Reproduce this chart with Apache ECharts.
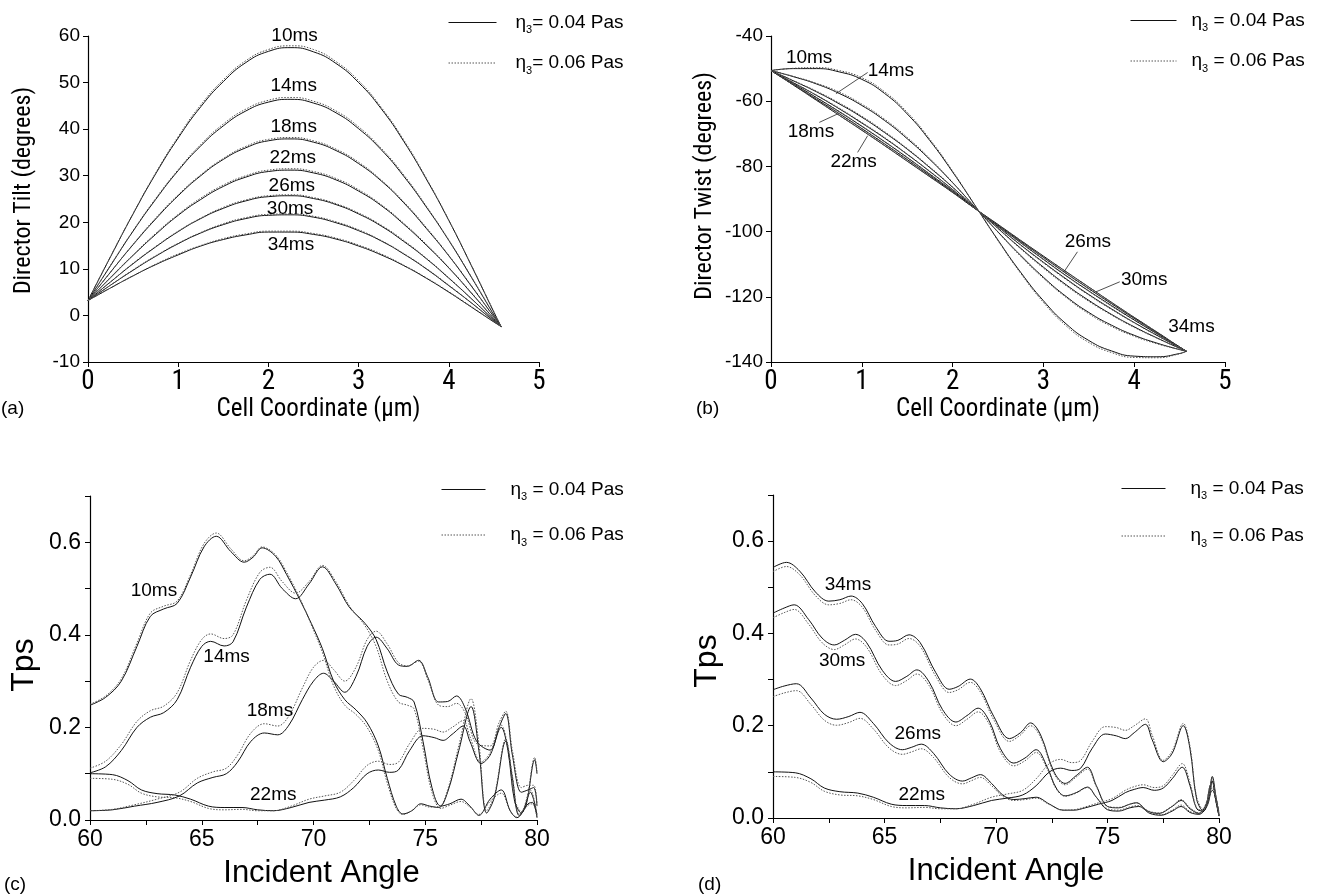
<!DOCTYPE html>
<html><head><meta charset="utf-8">
<script src="https://cdn.jsdelivr.net/npm/echarts@6/dist/echarts.min.js"></script>
<style>html,body{margin:0;padding:0;background:#fff}#c{width:1317px;height:896px}</style>
</head><body><div id="c"></div>
<script>
// ---------- Panel (a): director tilt vs cell coordinate ----------
const xA = [0,0.25,0.5,0.75,1,1.25,1.5,1.75,2,2.25,2.5,2.75,3,3.25,3.5,3.75,4,4.25,4.5,4.58];
const tilt10  = [3.2,12.6,21.8,30.4,38.1,44.8,50.2,54.3,56.7,57.5,56.6,54.1,50.0,44.4,37.4,29.3,20.4,10.7,0.7,-2.4];
const tilt10d = [3.2,12.7,21.9,30.6,38.4,45.2,50.6,54.7,57.1,57.9,57.1,54.5,50.4,44.7,37.7,29.5,20.5,10.8,0.8,-2.4];
const tilt14  = [3.2,10.7,18.1,24.9,31.1,36.4,40.7,43.9,45.8,46.4,45.6,43.5,40.1,35.6,29.9,23.3,16.1,8.2,0.1,-2.4];
const tilt14d = [3.2,10.8,18.2,25.1,31.3,36.7,41.1,44.3,46.2,46.8,46.0,43.9,40.5,35.9,30.2,23.5,16.2,8.3,0.2,-2.4];
const tilt18  = [3.2,9.3,15.2,20.7,25.7,30.0,33.5,36.0,37.5,37.9,37.2,35.4,32.6,28.9,24.2,18.7,12.8,6.3,-0.3,-2.4];
const tilt18d = [3.2,9.3,15.3,20.9,25.9,30.2,33.7,36.3,37.8,38.2,37.5,35.7,32.9,29.1,24.4,18.9,12.9,6.4,-0.3,-2.4];
const tilt22  = [3.2,8.1,12.9,17.4,21.5,24.9,27.7,29.7,30.9,31.2,30.6,29.1,26.7,23.6,19.6,15.1,10.2,4.8,-0.7,-2.4];
const tilt22d = [3.2,8.2,13.0,17.6,21.7,25.2,28.0,30.0,31.2,31.5,30.9,29.4,27.0,23.8,19.8,15.3,10.3,4.9,-0.7,-2.4];
const tilt26  = [3.2,7.2,11.1,14.7,18.0,20.8,23.0,24.6,25.5,25.7,25.1,23.8,21.8,19.2,15.9,12.2,8.0,3.6,-1.0,-2.4];
const tilt26d = [3.2,7.2,11.2,14.8,18.1,20.9,23.2,24.8,25.7,25.9,25.3,24.0,22.0,19.4,16.1,12.3,8.1,3.6,-1.0,-2.4];
const tilt30  = [3.2,6.5,9.7,12.7,15.4,17.7,19.5,20.8,21.5,21.6,21.1,19.9,18.2,16.0,13.2,10.0,6.4,2.7,-1.2,-2.4];
const tilt30d = [3.2,6.5,9.8,12.8,15.5,17.8,19.7,21.0,21.7,21.8,21.3,20.1,18.4,16.1,13.3,10.1,6.5,2.7,-1.2,-2.4];
const tilt34  = [3.2,5.9,8.5,10.9,13.0,14.9,16.3,17.3,17.9,17.9,17.4,16.4,14.9,13.0,10.7,8.0,5.0,1.8,-1.4,-2.4];
const tilt34d = [3.2,5.9,8.5,11.0,13.2,15.0,16.5,17.5,18.1,18.1,17.6,16.6,15.1,13.2,10.8,8.1,5.1,1.9,-1.4,-2.4];
const labelsA = [['10ms',2.29,60.0],['14ms',2.28,49.4],['18ms',2.28,40.5],['22ms',2.27,33.9],['26ms',2.26,27.9],['30ms',2.24,22.9],['34ms',2.25,15.1]];

// ---------- Panel (b): director twist vs cell coordinate ----------
const xB = [0,0.25,0.5,0.75,1,1.25,1.5,1.75,2,2.25,2.5,2.75,3,3.25,3.5,3.75,4,4.25,4.5,4.575];
const twist10  = [-50.6,-50.0,-50.0,-51.0,-53.3,-57.6,-63.9,-72.1,-81.7,-92.1,-102.6,-112.5,-121.2,-128.3,-133.4,-136.6,-138.2,-138.4,-137.4,-136.7];
const twist10d = [-50.6,-49.9,-49.7,-50.6,-52.8,-57.1,-63.4,-71.7,-81.4,-92.1,-102.8,-112.8,-121.7,-128.9,-134.0,-137.1,-138.6,-138.7,-137.5,-136.7];
const twist14  = [-50.6,-52.5,-54.7,-57.6,-61.3,-65.9,-71.5,-77.9,-85.0,-92.6,-100.1,-107.3,-114.0,-119.9,-124.8,-128.7,-131.8,-134.2,-136.2,-136.7];
const twist14d = [-50.6,-52.4,-54.5,-57.2,-60.9,-65.5,-71.1,-77.6,-84.9,-92.6,-100.2,-107.6,-114.3,-120.2,-125.2,-129.1,-132.1,-134.4,-136.2,-136.7];
const twist18  = [-50.6,-53.8,-57.1,-60.8,-64.9,-69.6,-74.7,-80.4,-86.4,-92.8,-99.0,-105.1,-110.9,-116.3,-121.1,-125.4,-129.2,-132.6,-135.8,-136.7];
const twist18d = [-50.6,-53.7,-56.9,-60.5,-64.6,-69.3,-74.5,-80.2,-86.3,-92.8,-99.1,-105.3,-111.2,-116.6,-121.4,-125.6,-129.4,-132.7,-135.8,-136.7];
const twist22  = [-50.6,-54.4,-58.2,-62.3,-66.7,-71.3,-76.3,-81.6,-87.1,-92.9,-98.5,-104.1,-109.4,-114.5,-119.3,-123.7,-127.9,-131.8,-135.6,-136.7];
const twist22d = [-50.6,-54.3,-58.1,-62.1,-66.5,-71.1,-76.2,-81.5,-87.1,-92.9,-98.6,-104.2,-109.6,-114.7,-119.5,-123.9,-128.0,-131.9,-135.6,-136.7];
const twist26  = [-50.6,-54.7,-58.9,-63.2,-67.7,-72.4,-77.3,-82.4,-87.5,-92.9,-98.2,-103.4,-108.5,-113.5,-118.2,-122.7,-127.1,-131.3,-135.5,-136.7];
const twist26d = [-50.6,-54.7,-58.8,-63.1,-67.6,-72.3,-77.2,-82.3,-87.5,-92.9,-98.2,-103.5,-108.6,-113.6,-118.3,-122.9,-127.2,-131.4,-135.5,-136.7];
const twist30  = [-50.6,-55.0,-59.4,-63.8,-68.4,-73.1,-77.9,-82.8,-87.8,-93.0,-98.0,-103.0,-107.9,-112.8,-117.5,-122.1,-126.6,-131.0,-135.4,-136.7];
const twist30d = [-50.6,-54.9,-59.3,-63.7,-68.3,-73.0,-77.8,-82.8,-87.8,-93.0,-98.0,-103.1,-108.0,-112.9,-117.6,-122.2,-126.7,-131.1,-135.4,-136.7];
const twist34  = [-50.6,-55.1,-59.7,-64.3,-68.9,-73.6,-78.4,-83.2,-88.0,-93.0,-97.8,-102.7,-107.5,-112.3,-117.0,-121.7,-126.3,-130.8,-135.4,-136.7];
const twist34d = [-50.6,-55.1,-59.7,-64.3,-68.9,-73.6,-78.3,-83.1,-88.0,-93.0,-97.9,-102.7,-107.6,-112.3,-117.0,-121.7,-126.3,-130.8,-135.4,-136.7];
const labelsB = [['10ms',0.42,-46.7],['14ms',1.32,-50.6],['18ms',0.44,-69.5],['22ms',0.91,-78.5],['26ms',3.49,-103.2],['30ms',4.11,-114.8],['34ms',4.63,-129.2]];
const leadersB = [
  [[1.064,-51.2],[0.715,-57.7]],
  [[0.532,-66.5],[0.734,-63.9]],
  [[0.954,-75.7],[1.064,-70.6]],
  [[3.375,-106.2],[3.228,-112.3]],
  [[3.841,-115.4],[3.577,-118.5]]
];

// ---------- Panels (c),(d): Tps vs incident angle ----------
const tps22 = [[60,0.1],[61,0.098],[61.7,0.085],[62.3,0.065],[63,0.057],[63.8,0.054],[64.5,0.045],[65.3,0.03],[66,0.027],[66.8,0.027],[67.5,0.022],[68.2,0.02],[69,0.027],[69.8,0.038],[70.5,0.043],[71.2,0.05],[71.8,0.07],[72.4,0.1],[72.9,0.108],[73.4,0.103],[73.8,0.108],[74.3,0.15],[74.9,0.182],[75.4,0.178],[75.8,0.172],[76.2,0.185],[76.7,0.203],[77.0,0.17],[77.5,0.122],[77.9,0.14],[78.4,0.2],[78.7,0.15],[79.0,0.04],[79.3,0.015],[79.7,0.06],[80,0.01]];
const tps22d = [[60,0.09],[61,0.088],[61.7,0.077],[62.3,0.058],[63,0.05],[63.8,0.048],[64.5,0.04],[65.3,0.025],[66,0.022],[66.8,0.023],[67.5,0.02],[68.2,0.02],[69,0.03],[69.8,0.045],[70.5,0.052],[71.2,0.06],[71.8,0.085],[72.4,0.118],[72.9,0.127],[73.4,0.12],[73.8,0.125],[74.3,0.165],[74.9,0.198],[75.4,0.196],[75.8,0.19],[76.2,0.2],[76.7,0.215],[77.0,0.18],[77.5,0.125],[77.9,0.145],[78.4,0.205],[78.7,0.155],[79.0,0.045],[79.3,0.018],[79.7,0.065],[80,0.012]];

const tpsC10 = [[60,0.248],[60.7,0.265],[61.4,0.3],[62.1,0.375],[62.7,0.44],[63.3,0.456],[63.9,0.468],[64.5,0.525],[65.1,0.59],[65.65,0.613],[66.3,0.58],[66.9,0.557],[67.3,0.568],[67.7,0.588],[68.3,0.57],[68.8,0.53],[69.4,0.475],[69.9,0.425],[70.4,0.37],[70.9,0.3],[71.4,0.26],[71.9,0.238],[72.4,0.21],[72.9,0.16],[73.3,0.09],[73.7,0.03],[74.0,0.013],[74.4,0.02],[74.8,0.035],[75.2,0.03],[75.6,0.027],[76.0,0.06],[76.5,0.15],[77.05,0.245],[77.4,0.15],[77.75,0.015],[78.1,0.05],[78.6,0.17],[78.9,0.09],[79.2,0.01],[79.5,0.03],[79.9,0.13],[80,0.1]];
const tpsC10d = [[60,0.25],[60.7,0.268],[61.4,0.305],[62.1,0.382],[62.7,0.447],[63.3,0.462],[63.9,0.473],[64.5,0.53],[65.1,0.597],[65.65,0.62],[66.3,0.586],[66.9,0.56],[67.3,0.571],[67.7,0.59],[68.3,0.573],[68.8,0.535],[69.4,0.478],[69.9,0.422],[70.4,0.362],[70.9,0.29],[71.4,0.248],[71.9,0.228],[72.4,0.2],[72.9,0.15],[73.3,0.08],[73.7,0.025],[74.0,0.012],[74.4,0.02],[74.8,0.033],[75.2,0.028],[75.6,0.028],[76.0,0.065],[76.5,0.16],[77.05,0.262],[77.4,0.165],[77.75,0.02],[78.1,0.055],[78.6,0.175],[78.9,0.095],[79.2,0.012],[79.5,0.035],[79.9,0.135],[80,0.105]];
const tpsC14 = [[60,0.102],[60.7,0.115],[61.4,0.15],[62.1,0.2],[62.7,0.222],[63.3,0.232],[63.9,0.26],[64.5,0.33],[65.0,0.375],[65.4,0.386],[66.0,0.376],[66.4,0.385],[67.0,0.46],[67.6,0.52],[68.05,0.531],[68.6,0.5],[69.2,0.478],[69.8,0.51],[70.4,0.547],[71.0,0.51],[71.6,0.46],[72.3,0.425],[72.8,0.39],[73.3,0.32],[73.8,0.272],[74.2,0.265],[74.5,0.255],[74.9,0.17],[75.3,0.07],[75.7,0.03],[76.1,0.035],[76.6,0.045],[77.0,0.03],[77.4,0.01],[77.9,0.045],[78.4,0.065],[78.8,0.02],[79.1,0.005],[79.6,0.035],[79.8,0.038],[80,0.005]];
const tpsC14d = [[60,0.112],[60.7,0.127],[61.4,0.163],[62.1,0.213],[62.7,0.236],[63.3,0.246],[63.9,0.275],[64.5,0.345],[65.0,0.39],[65.4,0.402],[66.0,0.392],[66.4,0.4],[67.0,0.475],[67.6,0.535],[68.05,0.546],[68.6,0.515],[69.2,0.49],[69.8,0.515],[70.4,0.55],[71.0,0.515],[71.6,0.463],[72.3,0.42],[72.8,0.375],[73.3,0.3],[73.8,0.255],[74.2,0.248],[74.5,0.24],[74.9,0.155],[75.3,0.06],[75.7,0.025],[76.1,0.032],[76.6,0.04],[77.0,0.028],[77.4,0.012],[77.9,0.04],[78.4,0.058],[78.8,0.02],[79.1,0.006],[79.6,0.032],[79.8,0.035],[80,0.006]];
const tpsC18 = [[60,0.02],[61,0.022],[62,0.03],[63,0.038],[64,0.052],[64.8,0.08],[65.5,0.092],[66.1,0.1],[66.6,0.125],[67.2,0.17],[67.8,0.188],[68.4,0.184],[68.9,0.205],[69.5,0.26],[70.0,0.3],[70.45,0.317],[70.9,0.3],[71.4,0.276],[71.9,0.31],[72.4,0.375],[72.8,0.395],[73.3,0.37],[73.8,0.335],[74.2,0.332],[74.7,0.345],[75.1,0.31],[75.6,0.255],[76.0,0.256],[76.4,0.268],[76.8,0.24],[77.3,0.17],[77.9,0.151],[78.3,0.2],[78.6,0.23],[78.9,0.14],[79.3,0.06],[79.6,0.065],[79.85,0.07],[80,0.03]];
const tpsC18d = [[60,0.02],[61,0.023],[62,0.033],[63,0.045],[64,0.06],[64.8,0.09],[65.5,0.104],[66.1,0.112],[66.6,0.14],[67.2,0.188],[67.8,0.208],[68.4,0.203],[68.9,0.225],[69.5,0.285],[70.0,0.33],[70.45,0.345],[70.9,0.325],[71.4,0.3],[71.9,0.33],[72.4,0.39],[72.8,0.408],[73.3,0.38],[73.8,0.34],[74.2,0.333],[74.7,0.343],[75.1,0.305],[75.6,0.248],[76.0,0.245],[76.4,0.252],[76.8,0.23],[77.3,0.165],[77.9,0.16],[78.3,0.21],[78.6,0.235],[78.9,0.15],[79.3,0.07],[79.6,0.075],[79.85,0.075],[80,0.035]];
const labelsC = [['10ms',62.86,0.496],['14ms',66.11,0.352],['18ms',68.05,0.236],['22ms',68.2,0.054]];

const tpsD34 = [[60,0.543],[60.6,0.554],[61.2,0.535],[61.9,0.49],[62.5,0.47],[63.0,0.473],[63.5,0.481],[64.0,0.465],[64.6,0.415],[65.2,0.383],[65.6,0.385],[66.1,0.397],[66.6,0.38],[67.3,0.315],[67.9,0.279],[68.3,0.285],[68.85,0.301],[69.3,0.28],[69.9,0.22],[70.6,0.172],[71.1,0.185],[71.55,0.206],[72.0,0.18],[72.6,0.1],[73.1,0.075],[73.6,0.092],[74.1,0.11],[74.5,0.07],[75.0,0.025],[75.5,0.022],[76.0,0.03],[76.3,0.033],[76.8,0.015],[77.3,0.01],[77.9,0.025],[78.3,0.038],[78.7,0.02],[79.1,0.01],[79.5,0.04],[79.7,0.09],[79.85,0.05],[80,0.005]];
const tpsD34d = [[60,0.534],[60.6,0.545],[61.2,0.527],[61.9,0.482],[62.5,0.462],[63.0,0.465],[63.5,0.473],[64.0,0.457],[64.6,0.407],[65.2,0.375],[65.6,0.377],[66.1,0.389],[66.6,0.372],[67.3,0.307],[67.9,0.272],[68.3,0.278],[68.85,0.294],[69.3,0.273],[69.9,0.213],[70.6,0.166],[71.1,0.18],[71.55,0.2],[72.0,0.175],[72.6,0.097],[73.1,0.072],[73.6,0.089],[74.1,0.106],[74.5,0.068],[75.0,0.025],[75.5,0.023],[76.0,0.03],[76.3,0.033],[76.8,0.016],[77.3,0.011],[77.9,0.026],[78.3,0.04],[78.7,0.022],[79.1,0.011],[79.5,0.042],[79.7,0.088],[79.85,0.05],[80,0.006]];
const tpsD30 = [[60,0.444],[60.5,0.455],[60.95,0.462],[61.6,0.43],[62.2,0.39],[62.75,0.375],[63.2,0.385],[63.7,0.398],[64.2,0.38],[64.9,0.32],[65.5,0.296],[66.0,0.307],[66.45,0.321],[67.0,0.295],[67.6,0.235],[68.2,0.208],[68.7,0.222],[69.2,0.238],[69.7,0.21],[70.2,0.15],[70.8,0.119],[71.3,0.13],[71.8,0.148],[72.3,0.11],[72.7,0.065],[73.1,0.048],[73.6,0.055],[74.1,0.067],[74.5,0.045],[75.0,0.018],[75.5,0.015],[76.0,0.022],[76.4,0.025],[76.9,0.01],[77.4,0.006],[77.9,0.015],[78.3,0.025],[78.7,0.012],[79.1,0.008],[79.5,0.03],[79.7,0.08],[79.85,0.04],[80,0.004]];
const tpsD30d = [[60,0.434],[60.5,0.445],[60.95,0.452],[61.6,0.42],[62.2,0.38],[62.75,0.365],[63.2,0.375],[63.7,0.388],[64.2,0.37],[64.9,0.31],[65.5,0.287],[66.0,0.298],[66.45,0.312],[67.0,0.287],[67.6,0.227],[68.2,0.2],[68.7,0.214],[69.2,0.23],[69.7,0.203],[70.2,0.143],[70.8,0.113],[71.3,0.124],[71.8,0.142],[72.3,0.106],[72.7,0.063],[73.1,0.047],[73.6,0.054],[74.1,0.066],[74.5,0.045],[75.0,0.02],[75.5,0.017],[76.0,0.024],[76.4,0.027],[76.9,0.012],[77.4,0.007],[77.9,0.017],[78.3,0.028],[78.7,0.014],[79.1,0.009],[79.5,0.032],[79.7,0.078],[79.85,0.04],[80,0.005]];
const tpsD26 = [[60,0.278],[60.5,0.286],[61.05,0.291],[61.7,0.26],[62.3,0.225],[62.85,0.214],[63.4,0.22],[63.9,0.229],[64.5,0.205],[65.2,0.163],[65.8,0.148],[66.2,0.153],[66.65,0.16],[67.2,0.14],[67.9,0.095],[68.5,0.08],[68.9,0.087],[69.3,0.094],[69.8,0.075],[70.3,0.05],[70.8,0.04],[71.3,0.042],[71.8,0.045],[72.4,0.03],[73.0,0.017],[73.5,0.017],[74.0,0.022],[74.6,0.03],[75.2,0.038],[75.8,0.055],[76.2,0.062],[76.6,0.066],[77.1,0.06],[77.5,0.065],[77.9,0.085],[78.35,0.11],[78.7,0.07],[79.0,0.02],[79.3,0.015],[79.6,0.07],[79.7,0.08],[79.85,0.04],[80,0.005]];
const tpsD26d = [[60,0.263],[60.5,0.271],[61.05,0.276],[61.7,0.246],[62.3,0.212],[62.85,0.201],[63.4,0.207],[63.9,0.216],[64.5,0.193],[65.2,0.152],[65.8,0.138],[66.2,0.143],[66.65,0.15],[67.2,0.131],[67.9,0.088],[68.5,0.074],[68.9,0.081],[69.3,0.088],[69.8,0.07],[70.3,0.047],[70.8,0.038],[71.3,0.04],[71.8,0.043],[72.4,0.029],[73.0,0.017],[73.5,0.018],[74.0,0.024],[74.6,0.033],[75.2,0.042],[75.8,0.06],[76.2,0.068],[76.6,0.072],[77.1,0.066],[77.5,0.07],[77.9,0.092],[78.35,0.118],[78.7,0.076],[79.0,0.022],[79.3,0.016],[79.6,0.072],[79.7,0.082],[79.85,0.042],[80,0.006]];
const labelsD = [['34ms',63.36,0.505],['30ms',63.1,0.341],['26ms',66.49,0.182],['22ms',66.67,0.051]];

const legendText = {
  A1:'{g|η}{s|3}{t|= 0.04 Pas}', A2:'{g|η}{s|3}{t|= 0.06 Pas}',
  B1:'{g|η}{s|3}{t| = 0.04 Pas}', B2:'{g|η}{s|3}{t| = 0.06 Pas}',
  C1:'{g|η}{s|3}{t| = 0.04 Pas}', C2:'{g|η}{s|3}{t| = 0.06 Pas}',
  D1:'{g|η}{s|3}{t| = 0.04 Pas}', D2:'{g|η}{s|3}{t| = 0.06 Pas}'
};

// ---------- build ----------
const NARROW = "'Liberation Sans Narrow','Arial Narrow','Roboto Condensed','Liberation Sans',sans-serif";
const SANS = "'Liberation Sans',Arial,sans-serif";
const SOLID = {color:'#111', width:1, type:'solid'};
const DOT = {color:'#555', width:1, type:[1.5,1.5]};

function zip(xs, ys){ return xs.map((x,i)=>[x, ys[i]]); }
const series = [];
function addCurve(name, idx, data, dotted, smooth){
  series.push({type:'line', name, xAxisIndex:idx, yAxisIndex:idx, data,
    symbol:'none', showSymbol:false, smooth: smooth,
    lineStyle: dotted ? DOT : SOLID, itemStyle:{color: dotted ? '#555' : '#111'},
    z: dotted ? 3 : 2, silent:true, animation:false});
}
function addLabels(idx, arr){
  series.push({type:'scatter', xAxisIndex:idx, yAxisIndex:idx, symbolSize:2, clip:false,
    itemStyle:{color:'#fff', opacity:1},
    data: arr.map(l => ({value:[l[1], l[2]], name:l[0]})),
    label:{show:true, position:'inside', formatter: p => p.name, color:'#000', opacity:1,
      textBorderWidth:0, fontSize:19, fontFamily:SANS},
    silent:true, animation:false, z:5});
}
function addLeader(idx, seg){
  series.push({type:'line', xAxisIndex:idx, yAxisIndex:idx, data: seg, symbol:'none',
    lineStyle:{color:'#222', width:0.8}, silent:true, animation:false, z:4});
}

[[tilt10,tilt10d],[tilt14,tilt14d],[tilt18,tilt18d],[tilt22,tilt22d],[tilt26,tilt26d],[tilt30,tilt30d],[tilt34,tilt34d]].forEach(p=>{
  addCurve('A1',0,zip(xA,p[0]),false,true); addCurve('A2',0,zip(xA,p[1]),true,true);
});
[[twist10,twist10d],[twist14,twist14d],[twist18,twist18d],[twist22,twist22d],[twist26,twist26d],[twist30,twist30d],[twist34,twist34d]].forEach(p=>{
  addCurve('B1',1,zip(xB,p[0]),false,true); addCurve('B2',1,zip(xB,p[1]),true,true);
});
[[tpsC10,tpsC10d],[tpsC14,tpsC14d],[tpsC18,tpsC18d],[tps22,tps22d]].forEach(p=>{
  addCurve('C1',2,p[0],false,0.35); addCurve('C2',2,p[1],true,0.35);
});
[[tpsD34,tpsD34d],[tpsD30,tpsD30d],[tpsD26,tpsD26d],[tps22,tps22d]].forEach(p=>{
  addCurve('D1',3,p[0],false,0.35); addCurve('D2',3,p[1],true,0.35);
});
addLabels(0, labelsA); addLabels(1, labelsB); addLabels(2, labelsC); addLabels(3, labelsD);
leadersB.forEach(s => addLeader(1, s));

const axLine = {show:true, onZero:false, lineStyle:{color:'#000', width:1.2}};
const axTick = {show:true, inside:false, length:5, lineStyle:{color:'#000', width:1}};

function xAxisCell(idx, padL){
  return {gridIndex:idx, type:'value', min:0, max:5, interval:1, axisLine:axLine, axisTick:axTick,
    axisLabel:{fontSize:27, fontFamily:NARROW, color:'#000', margin:7}, splitLine:{show:false},
    name:'Cell Coordinate (μm)', nameLocation:'middle', nameGap:34,
    nameTextStyle:{fontSize:25, fontFamily:NARROW, color:'#000', padding:[0,0,0,padL]}};
}
function xAxisAngle(idx, padL){
  return {gridIndex:idx, type:'value', min:60, max:80, interval:2.5, axisLine:axLine, axisTick:axTick,
    axisLabel:{fontSize:23, fontFamily:SANS, color:'#000', margin:8,
      formatter: v => (Math.abs(v % 5) < 1e-6 ? String(v) : '')},
    splitLine:{show:false}, name:'Incident Angle', nameLocation:'middle', nameGap:38,
    nameTextStyle:{fontSize:31, fontFamily:SANS, color:'#000', padding:[0,0,0,padL]}};
}
function yAxisTps(idx, padR){
  return {gridIndex:idx, type:'value', min:0, max:0.7, interval:0.1, axisLine:axLine, axisTick:axTick,
    axisLabel:{fontSize:23, fontFamily:SANS, color:'#000', margin:9,
      formatter: v => { const k = Math.round(v*10); return (k % 2 === 0 && k < 7) ? v.toFixed(1) : ''; }},
    splitLine:{show:false}, name:'Tps', nameLocation:'middle', nameGap:50,
    nameTextStyle:{fontSize:32, fontFamily:SANS, color:'#000', padding:[0,padR,0,0]}};
}

function legendFor(names, left, top, width, pad, gap){
  return {data:names, left, top, orient:'vertical', itemWidth:width, itemHeight:12, itemGap:gap,
    selectedMode:false,
    itemStyle:{opacity:0},
    lineStyle:{width:1},
    formatter: n => legendText[n],
    textStyle:{padding:[0,0,0,pad], color:'#000',
      rich:{
        g:{fontSize:19, fontFamily:SANS, color:'#000', lineHeight:26},
        s:{fontSize:11, fontFamily:SANS, color:'#000', lineHeight:11, verticalAlign:'bottom'},
        t:{fontSize:19, fontFamily:SANS, color:'#000', lineHeight:26}
      }}};
}

const option = {
  backgroundColor:'#fff',
  animation:false,
  grid:[
    {left:88, top:36, width:451, height:326},
    {left:771, top:36, width:454, height:326},
    {left:90, top:496, width:447, height:324},
    {left:773, top:495, width:446, height:323}
  ],
  xAxis:[xAxisCell(0, 10), xAxisCell(1, 0), xAxisAngle(2, 16), xAxisAngle(3, 20)],
  yAxis:[
    {gridIndex:0, type:'value', min:-10, max:60, interval:10, axisLine:axLine, axisTick:axTick,
      axisLabel:{fontSize:19, fontFamily:SANS, color:'#000', margin:8}, splitLine:{show:false},
      name:'Director Tilt (degrees)', nameLocation:'middle', nameGap:52,
      nameTextStyle:{fontSize:24, fontFamily:NARROW, color:'#000', padding:[0,0,0,17]}},
    {gridIndex:1, type:'value', min:-140, max:-40, interval:20, axisLine:axLine, axisTick:axTick,
      axisLabel:{fontSize:19, fontFamily:SANS, color:'#000', margin:8}, splitLine:{show:false},
      name:'Director Twist (degrees)', nameLocation:'middle', nameGap:54,
      nameTextStyle:{fontSize:24, fontFamily:NARROW, color:'#000', padding:[0,0,0,26]}},
    yAxisTps(2, 14), yAxisTps(3, 9)
  ],
  legend:[
    legendFor(['A1','A2'], 443, 8, 48, 14, 18),
    legendFor(['B1','B2'], 1125, 6, 46, 10, 18),
    legendFor(['C1','C2'], 436, 475, 44, 20, 23),
    legendFor(['D1','D2'], 1116, 474, 44, 20, 25)
  ],
  graphic:[
    {type:'text', left:1, top:399, style:{text:'(a)', font:"19px 'Liberation Sans'", fill:'#000'}},
    {type:'text', left:696, top:399, style:{text:'(b)', font:"19px 'Liberation Sans'", fill:'#000'}},
    {type:'text', left:4, top:875, style:{text:'(c)', font:"19px 'Liberation Sans'", fill:'#000'}},
    {type:'text', left:698, top:875, style:{text:'(d)', font:"19px 'Liberation Sans'", fill:'#000'}}
  ],
  series
};

const chart = echarts.init(document.getElementById('c'), null, {renderer:'canvas'});
chart.setOption(option);
</script>
</body></html>
